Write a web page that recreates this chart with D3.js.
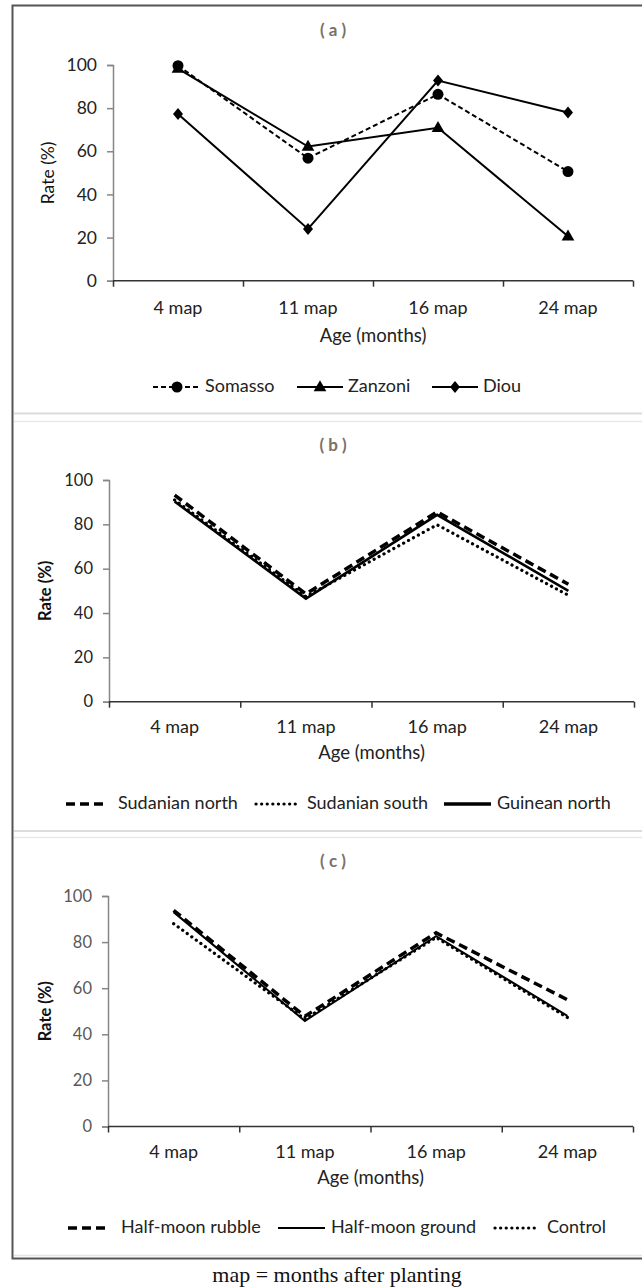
<!DOCTYPE html>
<html><head><meta charset="utf-8">
<script src="https://cdn.jsdelivr.net/npm/d3@7"></script>
<style>
html,body{margin:0;padding:0;background:#fff;}
svg{display:block;font-family:Lato, "Open Sans", sans-serif;}
</style></head>
<body>
<svg id="chart" width="642" height="1288"></svg>
<script>
// ---- data ----
const categories = ["4 map", "11 map", "16 map", "24 map"];
const yTicks = [0, 20, 40, 60, 80, 100];

// panel (a)
const somasso = [99.7, 56.8, 86.4, 50.6];
const zanzoni = [98.3, 62.2, 70.9, 20.6];
const diou    = [77.3, 24.0, 92.8, 78.0];

// panel (b)
const sudanianNorth = [93.2, 48.6, 85.6, 53.0];
const sudanianSouth = [91.0, 47.4, 79.8, 48.0];
const guineanNorth  = [90.3, 46.5, 84.3, 50.0];

// panel (c)
const halfMoonRubble = [93.8, 47.8, 84.0, 55.0];
const halfMoonGround = [93.0, 45.8, 82.6, 48.0];
const control        = [88.0, 46.6, 82.0, 47.3];

const svg = d3.select("#chart");

// ---- frame ----
svg.append("rect").attr("x",12.5).attr("y",5.5).attr("width",660).attr("height",1253)
  .attr("fill","none").attr("stroke","#555").attr("stroke-width",2);
[[413.5,"#dcdcdc",2],[421.5,"#e8e8e8",1.5],[831,"#dcdcdc",2],[837.5,"#e8e8e8",1.5],[1255.5,"#e3e3e3",1.5]]
  .forEach(([y,c,w])=>svg.append("line").attr("x1",14).attr("x2",642).attr("y1",y).attr("y2",y)
  .attr("stroke",c).attr("stroke-width",w));

const panels = [
  { title:"( a )", titleY:32, x0:113, x1:633, yTop:65, yBot:280.7,
    tickColor:"#222", tickSize:17.5, yTitleX:50, yTitleSize:17.5, yTitleWeight:"normal",
    catY:308, ageY:337, legendY:387,
    series:[
      {name:"Somasso", values:somasso, dash:"5,3", width:2, marker:"circle", lx0:153, lx1:201, tx:205},
      {name:"Zanzoni", values:zanzoni, dash:null, width:2, marker:"triangle", lx0:297, lx1:343, tx:348},
      {name:"Diou",    values:diou,    dash:null, width:2, marker:"diamond", lx0:432, lx1:478, tx:483}
    ]},
  { title:"( b )", titleY:447, x0:109, x1:634, yTop:480, yBot:701.7,
    tickColor:"#222", tickSize:16.5, yTitleX:47, yTitleSize:16.5, yTitleWeight:"bold",
    catY:727, ageY:754, legendY:804,
    series:[
      {name:"Sudanian north", values:sudanianNorth, dash:"9,5", width:3.5, lx0:66, lx1:108, tx:118},
      {name:"Sudanian south", values:sudanianSouth, dash:"0.1,5.5", cap:"round", width:3.2, lx0:256, lx1:297, tx:307},
      {name:"Guinean north",  values:guineanNorth,  dash:null, width:2.6, legendWidth:3.5, lx0:444, lx1:491, tx:497}
    ]},
  { title:"( c )", titleY:863, x0:108, x1:633, yTop:896, yBot:1126.5,
    tickColor:"#595959", tickSize:16.5, yTitleX:47, yTitleSize:16.5, yTitleWeight:"bold",
    catY:1152, ageY:1179, legendY:1228,
    series:[
      {name:"Half-moon rubble", values:halfMoonRubble, dash:"9,5", width:3.5, lx0:68, lx1:110, tx:121},
      {name:"Half-moon ground", values:halfMoonGround, dash:null, width:2, legendWidth:2.2, lx0:278, lx1:325, tx:331},
      {name:"Control",          values:control,        dash:"0.1,5.5", cap:"round", width:3.2, lx0:495, lx1:536, tx:547}
    ]}
];

function marker(g, type, x, y){
  if(type==="circle") g.append("circle").attr("cx",x).attr("cy",y).attr("r",5.5).attr("fill","#000");
  else if(type==="triangle") g.append("path").attr("d",d3.symbol(d3.symbolTriangle,70)()).attr("transform",`translate(${x},${y+0.5})`).attr("fill","#000");
  else if(type==="diamond") g.append("path").attr("d","M0,-6L5,0L0,6L-5,0Z").attr("transform",`translate(${x},${y})`).attr("fill","#000");
}

panels.forEach(p=>{
  const g = svg.append("g");
  const xBand = d3.scaleBand().domain(categories).range([p.x0,p.x1]);
  const xEdge = d3.scaleLinear().domain([0,categories.length]).range([p.x0,p.x1]);
  const y = d3.scaleLinear().domain([0,100]).range([p.yBot,p.yTop]);

  g.append("text").attr("x",333).attr("y",p.titleY).attr("text-anchor","middle")
    .attr("dominant-baseline","middle").attr("font-size",17).attr("font-weight","bold").attr("fill","#7a7068")
    .attr("xml:space","preserve").text(p.title);

  // y axis
  const ya = g.append("g").attr("transform",`translate(${p.x0},0)`)
    .call(d3.axisLeft(y).tickValues(yTicks).tickSize(6).tickPadding(10).tickFormat(d3.format("d")));
  ya.selectAll("path,line").attr("stroke","#868686").attr("stroke-width",1.5);
  ya.selectAll("text").attr("font-size",p.tickSize).attr("fill",p.tickColor).attr("font-family","Lato");
  // x axis
  const xa = g.append("g").attr("transform",`translate(0,${p.yBot})`)
    .call(d3.axisBottom(xEdge).tickValues(d3.range(categories.length+1)).tickSize(6).tickSizeOuter(0).tickFormat(""));
  xa.selectAll("path,line").attr("stroke","#333").attr("stroke-width",1.5);
  xa.select("path").attr("d",`M${p.x0},0H${p.x1}`);
  const xl = g.append("g").attr("transform",`translate(0,${p.catY})`)
    .call(d3.axisBottom(xBand).tickSize(0).tickPadding(0));
  xl.select("path").remove();
  xl.selectAll("text").attr("font-size",18).attr("fill","#222").attr("font-family","Lato").attr("dy","0.35em");

  g.append("text").attr("transform",`translate(${p.yTitleX},${(p.yTop+p.yBot)/2}) rotate(-90)`)
    .attr("text-anchor","middle").attr("dominant-baseline","middle").attr("font-size",p.yTitleSize)
    .attr("font-weight",p.yTitleWeight).attr("fill","#111").text("Rate (%)");
  g.append("text").attr("x",(p.x0+p.x1)/2).attr("y",p.ageY).attr("text-anchor","middle")
    .attr("dominant-baseline","middle").attr("font-size",18.5).attr("fill","#222").text("Age (months)");

  const line = d3.line().x((d,i)=>xBand(categories[i])+xBand.bandwidth()/2).y(d=>y(d));
  p.series.forEach(s=>{
    g.append("path").datum(s.values).attr("d",line).attr("fill","none").attr("stroke","#000")
      .attr("stroke-width",s.width).attr("stroke-dasharray",s.dash).attr("stroke-linecap",s.cap||"butt")
      .attr("stroke-linejoin","miter");
    if(s.marker) s.values.forEach((v,i)=>marker(g,s.marker,xBand(categories[i])+xBand.bandwidth()/2,y(v)));
    // legend
    g.append("line").attr("x1",s.lx0).attr("x2",s.lx1).attr("y1",p.legendY).attr("y2",p.legendY)
      .attr("stroke","#000").attr("stroke-width",s.legendWidth||s.width).attr("stroke-dasharray",s.dash)
      .attr("stroke-linecap",s.cap||"butt");
    if(s.marker) marker(g,s.marker,(s.lx0+s.lx1)/2,p.legendY);
    g.append("text").attr("x",s.tx).attr("y",p.legendY).attr("dominant-baseline","middle")
      .attr("font-size",18).attr("fill","#222").text(s.name);
  });
});

svg.append("text").attr("x",337).attr("y",1277).attr("text-anchor","middle").attr("dominant-baseline","middle")
  .attr("font-family","'Liberation Serif', serif").attr("font-size",22).attr("fill","#111")
  .text("map = months after planting");
</script>
</body></html>
